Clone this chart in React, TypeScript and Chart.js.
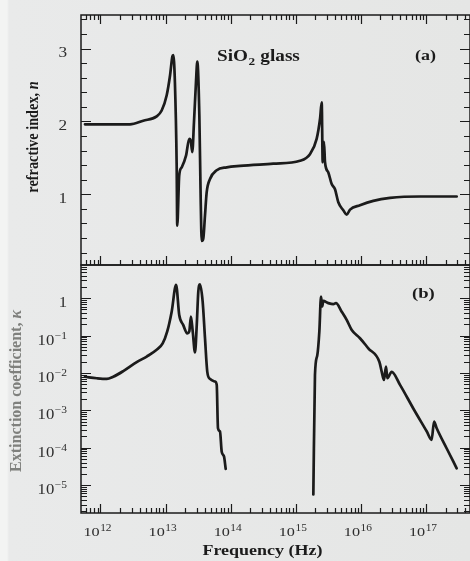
import React, { useEffect, useRef } from "react";
import { Chart, registerables } from "chart.js";

Chart.register(...registerables);

// ---------------- data ----------------
// (a) refractive index n versus frequency (Hz)
const nFreqHz = [
  5.78e11, 2.84e12, 4.54e12, 7.29e12, 8.71e12, 1.04e13, 1.17e13, 1.27e13, 1.31e13, 1.39e13,
  1.48e13, 1.51e13, 1.62e13, 1.77e13, 2.06e13, 2.31e13, 2.43e13, 2.57e13, 2.73e13, 2.93e13,
  3.07e13, 3.30e13, 3.46e13, 3.59e13, 3.79e13, 4.03e13, 4.28e13, 4.81e13, 6.10e13, 8.69e13,
  1.39e14, 4.51e14, 1.16e15, 1.65e15, 2.09e15, 2.36e15, 2.50e15, 2.59e15, 2.71e15, 2.81e15,
  3.16e15, 3.56e15, 4.00e15, 4.50e15, 5.37e15, 6.05e15, 6.81e15, 9.68e15, 1.55e16, 2.80e16,
  8.09e16, 2.96e17,
];
const nValues = [
  1.96, 1.96, 2.01, 2.07, 2.15, 2.36, 2.63, 2.89, 2.91, 2.54,
  1.39, 0.57, 1.26, 1.37, 1.53, 1.76, 1.74, 1.58, 1.99, 2.54,
  2.82, 2.08, 0.94, 0.36, 0.39, 0.71, 1.03, 1.21, 1.33, 1.37,
  1.39, 1.42, 1.46, 1.55, 1.76, 2.04, 2.26, 1.44, 1.72, 1.44,
  1.30, 1.14, 1.07, 0.89, 0.78, 0.72, 0.79, 0.85, 0.91, 0.95,
  0.97, 0.97,
];

// (b) extinction coefficient kappa, infrared branch
const kappaIrFreqHz = [
  5.78e11, 8.74e11, 1.25e12, 1.57e12, 2.24e12, 3.60e12, 5.13e12, 7.29e12, 9.02e12, 1.06e13,
  1.24e13, 1.45e13, 1.62e13, 1.87e13, 2.15e13, 2.31e13, 2.45e13, 2.61e13, 2.83e13, 3.01e13,
  3.18e13, 3.37e13, 3.71e13, 4.03e13, 4.37e13, 4.81e13, 5.74e13, 6.10e13, 6.38e13, 6.85e13,
  7.28e13, 7.89e13, 8.38e13,
];
const kappaIrValues = [
  7.9e-3, 7.2e-3, 6.9e-3, 7.9e-3, 1.12e-2, 1.95e-2, 2.75e-2, 4.17e-2, 6.17e-2, 0.129,
  0.437, 2.29, 0.355, 0.191, 0.115, 0.129, 0.324, 0.129, 3.55e-2, 0.191,
  1.51, 2.34, 0.813, 8.51e-2, 1.07e-2, 6.9e-3, 5.9e-3, 4.8e-3, 3.3e-4, 2.7e-4,
  7.8e-5, 5.8e-5, 2.7e-5,
];

// (b) extinction coefficient kappa, ultraviolet / x-ray branch
const kappaUvFreqHz = [
  1.86e15, 1.97e15, 2.14e15, 2.30e15, 2.44e15, 2.55e15, 2.64e15, 3.16e15, 3.77e15, 4.14e15,
  5.07e15, 6.05e15, 7.23e15, 9.68e15, 1.30e16, 1.92e16, 2.09e16, 2.26e16, 2.43e16, 2.55e16,
  2.97e16, 3.99e16, 6.38e16, 1.03e17, 1.22e17, 1.33e17, 1.46e17, 2.08e17, 2.96e17,
];
const kappaUvValues = [
  5.6e-6, 8.9e-3, 3.0e-2, 0.129, 1.10, 0.603, 0.851, 0.741, 0.692, 0.741,
  0.437, 0.263, 0.141, 8.5e-2, 4.57e-2, 2.0e-2, 1.07e-2, 6.5e-3, 1.48e-2, 7.2e-3,
  1.07e-2, 4.8e-3, 1.12e-3, 2.7e-4, 1.62e-4, 5.0e-4, 3.3e-4, 9.5e-5, 2.8e-5,
];

// axis ranges
const freqMinHz = 5.02e11;
const freqMaxHz = 4.74e17;
const nMin = 0.03;
const nMax = 3.46;
const kappaMin = 1.78e-6;
const kappaMax = 7.76;

// tick labels
const xTickValues = [1e12, 1e13, 1e14, 1e15, 1e16, 1e17];
const xTickBases = ["10", "10", "10", "10", "10", "10"];
const xTickExponents = ["12", "13", "14", "15", "16", "17"];
const nTickValues = [1, 2, 3];
const nTickLabels = ["1", "2", "3"];
const nMinorTickValues = [0.2, 0.4, 0.6, 0.8, 1.2, 1.4, 1.6, 1.8, 2.2, 2.4, 2.6, 2.8, 3.2, 3.4];
const kappaTickValues = [1, 1e-1, 1e-2, 1e-3, 1e-4, 1e-5];
const kappaTickBases = ["1", "10", "10", "10", "10", "10"];
const kappaTickExponents = ["", "\u22121", "\u22122", "\u22123", "\u22124", "\u22125"];

// ---------------- drawing helpers ----------------
const SERIF = '"Liberation Serif", "Times New Roman", Times, serif';
const INK = "#1b1b1b";
const LABEL = "#2d2d2d";
const GREY_TITLE = "#7f807d";

function textW(ctx: CanvasRenderingContext2D, s: string, font: string) {
  ctx.font = font;
  return ctx.measureText(s).width;
}

function put(ctx: CanvasRenderingContext2D, s: string, x: number, y: number, font: string, color: string, sx = 1) {
  ctx.save();
  ctx.font = font;
  ctx.fillStyle = color;
  ctx.textAlign = "left";
  ctx.textBaseline = "alphabetic";
  ctx.translate(x, y);
  ctx.scale(sx, 1);
  ctx.fillText(s, 0, 0);
  ctx.restore();
}

function powerLabel(
  ctx: CanvasRenderingContext2D, base: string, exp: string, x: number, y: number,
  align: "center" | "right", baseFont: string, expFont: string, rise: number, color: string, sx: number
) {
  const bw = textW(ctx, base, baseFont) * sx;
  const ew = exp ? textW(ctx, exp, expFont) * sx + 0.5 : 0;
  const total = bw + ew;
  const x0 = align === "center" ? x - total / 2 : x - total;
  put(ctx, base, x0, y, baseFont, color, sx);
  if (exp) put(ctx, exp, x0 + bw + 0.5, y - rise, expFont, color, sx);
}

function logTicks(min: number, max: number) {
  const out: { v: number; major: boolean }[] = [];
  for (let d = Math.floor(Math.log10(min)); d <= Math.ceil(Math.log10(max)); d++) {
    for (let m = 1; m <= 9; m++) {
      const v = m * Math.pow(10, d);
      if (v >= min && v <= max) out.push({ v, major: m === 1 });
    }
  }
  return out;
}

function xTicks(ctx: CanvasRenderingContext2D, scale: any, y: number, dir: number) {
  ctx.beginPath();
  for (const t of logTicks(scale.min, scale.max)) {
    const px = Math.round(scale.getPixelForValue(t.v)) + 0.5;
    const len = t.major ? 9 : 5;
    ctx.moveTo(px, y);
    ctx.lineTo(px, y + dir * len);
  }
  ctx.stroke();
}

function yTicks(ctx: CanvasRenderingContext2D, scale: any, list: { v: number; major: boolean }[], left: number, right: number) {
  ctx.beginPath();
  for (const t of list) {
    const py = Math.round(scale.getPixelForValue(t.v)) + 0.5;
    const len = t.major ? 10 : 6;
    ctx.moveTo(left, py);
    ctx.lineTo(left + len, py);
    ctx.moveTo(right, py);
    ctx.lineTo(right - len, py);
  }
  ctx.stroke();
}

function vTitle(
  ctx: CanvasRenderingContext2D, parts: { text: string; font: string }[], cx: number, cy: number, color: string, sy: number
) {
  ctx.save();
  ctx.translate(cx, cy);
  ctx.rotate(-Math.PI / 2);
  ctx.scale(1, sy);
  const widths = parts.map((p) => textW(ctx, p.text, p.font));
  const total = widths.reduce((a, b) => a + b, 0);
  let x = -total / 2;
  ctx.textBaseline = "middle";
  ctx.textAlign = "left";
  ctx.fillStyle = color;
  parts.forEach((p, i) => {
    ctx.font = p.font;
    ctx.fillText(p.text, x, 0);
    x += widths[i];
  });
  ctx.restore();
}

function frame(ctx: CanvasRenderingContext2D, a: any) {
  ctx.save();
  ctx.strokeStyle = INK;
  ctx.lineWidth = 1.5;
  ctx.strokeRect(a.left, a.top, a.right - a.left, a.bottom - a.top);
  ctx.restore();
}

const topPlugin = {
  id: "topFrame",
  afterDraw(chart: any) {
    const ctx: CanvasRenderingContext2D = chart.ctx;
    const a = chart.chartArea;
    const xs = chart.scales.x;
    const ys = chart.scales.y;
    frame(ctx, a);
    ctx.save();
    ctx.strokeStyle = INK;
    ctx.lineWidth = 1.2;
    xTicks(ctx, xs, a.top, 1);
    xTicks(ctx, xs, a.bottom, -1);
    const list = [
      ...nTickValues.map((v) => ({ v, major: true })),
      ...nMinorTickValues.map((v) => ({ v, major: false })),
    ];
    yTicks(ctx, ys, list, a.left, a.right);
    ctx.restore();
    nTickValues.forEach((v, i) => {
      const py = ys.getPixelForValue(v);
      put(ctx, nTickLabels[i], 67 - textW(ctx, nTickLabels[i], `15px ${SERIF}`) * 1.15, py + 8.5, `15px ${SERIF}`, LABEL, 1.15);
    });
    vTitle(
      ctx,
      [
        { text: "refractive index, ", font: `bold 14.3px ${SERIF}` },
        { text: "n", font: `italic bold 14.3px ${SERIF}` },
      ],
      34, 137, INK, 1.15
    );
    // panel annotations
    const f16 = `bold 16px ${SERIF}`;
    let x = 217;
    put(ctx, "SiO", x, 61, f16, INK, 1.2);
    x += textW(ctx, "SiO", f16) * 1.2;
    put(ctx, "2", x + 0.5, 65, `bold 11px ${SERIF}`, INK, 1.2);
    x += textW(ctx, "2", `bold 11px ${SERIF}`) * 1.2 + 1;
    put(ctx, " glass", x, 61, f16, INK, 1.2);
    put(ctx, "(a)", 415, 60, `bold 15px ${SERIF}`, INK, 1.2);
  },
};

const bottomPlugin = {
  id: "bottomFrame",
  afterDraw(chart: any) {
    const ctx: CanvasRenderingContext2D = chart.ctx;
    const a = chart.chartArea;
    const xs = chart.scales.x;
    const ys = chart.scales.y;
    frame(ctx, a);
    ctx.save();
    ctx.strokeStyle = INK;
    ctx.lineWidth = 1.2;
    xTicks(ctx, xs, a.bottom, -1);
    yTicks(ctx, ys, logTicks(ys.min, ys.max), a.left, a.right);
    ctx.restore();
    kappaTickValues.forEach((v, i) => {
      const py = ys.getPixelForValue(v);
      powerLabel(ctx, kappaTickBases[i], kappaTickExponents[i], 67, py + 9, "right",
        `14.5px ${SERIF}`, `10px ${SERIF}`, 6, LABEL, 1.15);
    });
    xTickValues.forEach((v, i) => {
      const px = xs.getPixelForValue(v);
      powerLabel(ctx, xTickBases[i], xTickExponents[i], px - 3, a.bottom + 22.7, "center",
        `13.5px ${SERIF}`, `9.5px ${SERIF}`, 4.5, LABEL, 1.2);
    });
    vTitle(
      ctx,
      [
        { text: "Extinction coefficient, ", font: `bold 16px ${SERIF}` },
        { text: "\u03BA", font: `italic bold 16px ${SERIF}` },
      ],
      16, 131, GREY_TITLE, 1.1
    );
    // x axis title
    const fF = `bold 15px ${SERIF}`;
    const t = "Frequency (Hz)";
    const w = textW(ctx, t, fF) * 1.2;
    put(ctx, t, 262.5 - w / 2, 295, fF, INK, 1.2);
    put(ctx, "(b)", 412, 37.5, `bold 15.5px ${SERIF}`, INK, 1.2);
  },
};

function lineDataset(xs: number[], ys: number[]) {
  return {
    data: xs.map((x, i) => ({ x, y: ys[i] })),
    borderColor: INK,
    borderWidth: 2.7,
    pointRadius: 0,
    fill: false,
    cubicInterpolationMode: "monotone" as const,
    borderJoinStyle: "round" as const,
    borderCapStyle: "round" as const,
  };
}

export default function App() {
  const topRef = useRef<HTMLCanvasElement>(null);
  const botRef = useRef<HTMLCanvasElement>(null);

  useEffect(() => {
    document.body.style.margin = "0";
    const top = new Chart(topRef.current as HTMLCanvasElement, {
      type: "line",
      data: { datasets: [lineDataset(nFreqHz, nValues)] },
      options: {
        responsive: false,
        maintainAspectRatio: false,
        animation: false,
        events: [],
        layout: { padding: { left: 81, top: 15, right: 0, bottom: 1 } },
        scales: {
          x: { type: "logarithmic", min: freqMinHz, max: freqMaxHz, display: false },
          y: { type: "linear", min: nMin, max: nMax, display: false },
        },
        plugins: { legend: { display: false }, tooltip: { enabled: false } },
      },
      plugins: [topPlugin],
    } as any);
    const bottom = new Chart(botRef.current as HTMLCanvasElement, {
      type: "line",
      data: {
        datasets: [lineDataset(kappaIrFreqHz, kappaIrValues), lineDataset(kappaUvFreqHz, kappaUvValues)],
      },
      options: {
        responsive: false,
        maintainAspectRatio: false,
        animation: false,
        events: [],
        layout: { padding: { left: 81, top: 5, right: 0, bottom: 48 } },
        scales: {
          x: { type: "logarithmic", min: freqMinHz, max: freqMaxHz, display: false },
          y: { type: "logarithmic", min: kappaMin, max: kappaMax, display: false },
        },
        plugins: { legend: { display: false }, tooltip: { enabled: false } },
      },
      plugins: [bottomPlugin],
    } as any);
    return () => {
      top.destroy();
      bottom.destroy();
    };
  }, []);

  return (
    <div
      style={{
        position: "fixed",
        left: 0,
        top: 0,
        width: 470,
        height: 561,
        overflow: "hidden",
        background: "linear-gradient(to right, #f3f4f3 0px, #f3f4f3 7px, #e9eaea 9px, #e5e6e5 100%)",
      }}
    >
      <canvas ref={topRef} width={470} height={266} style={{ position: "absolute", left: 0, top: 0 }} />
      <canvas ref={botRef} width={470} height={301} style={{ position: "absolute", left: 0, top: 260 }} />
    </div>
  );
}
